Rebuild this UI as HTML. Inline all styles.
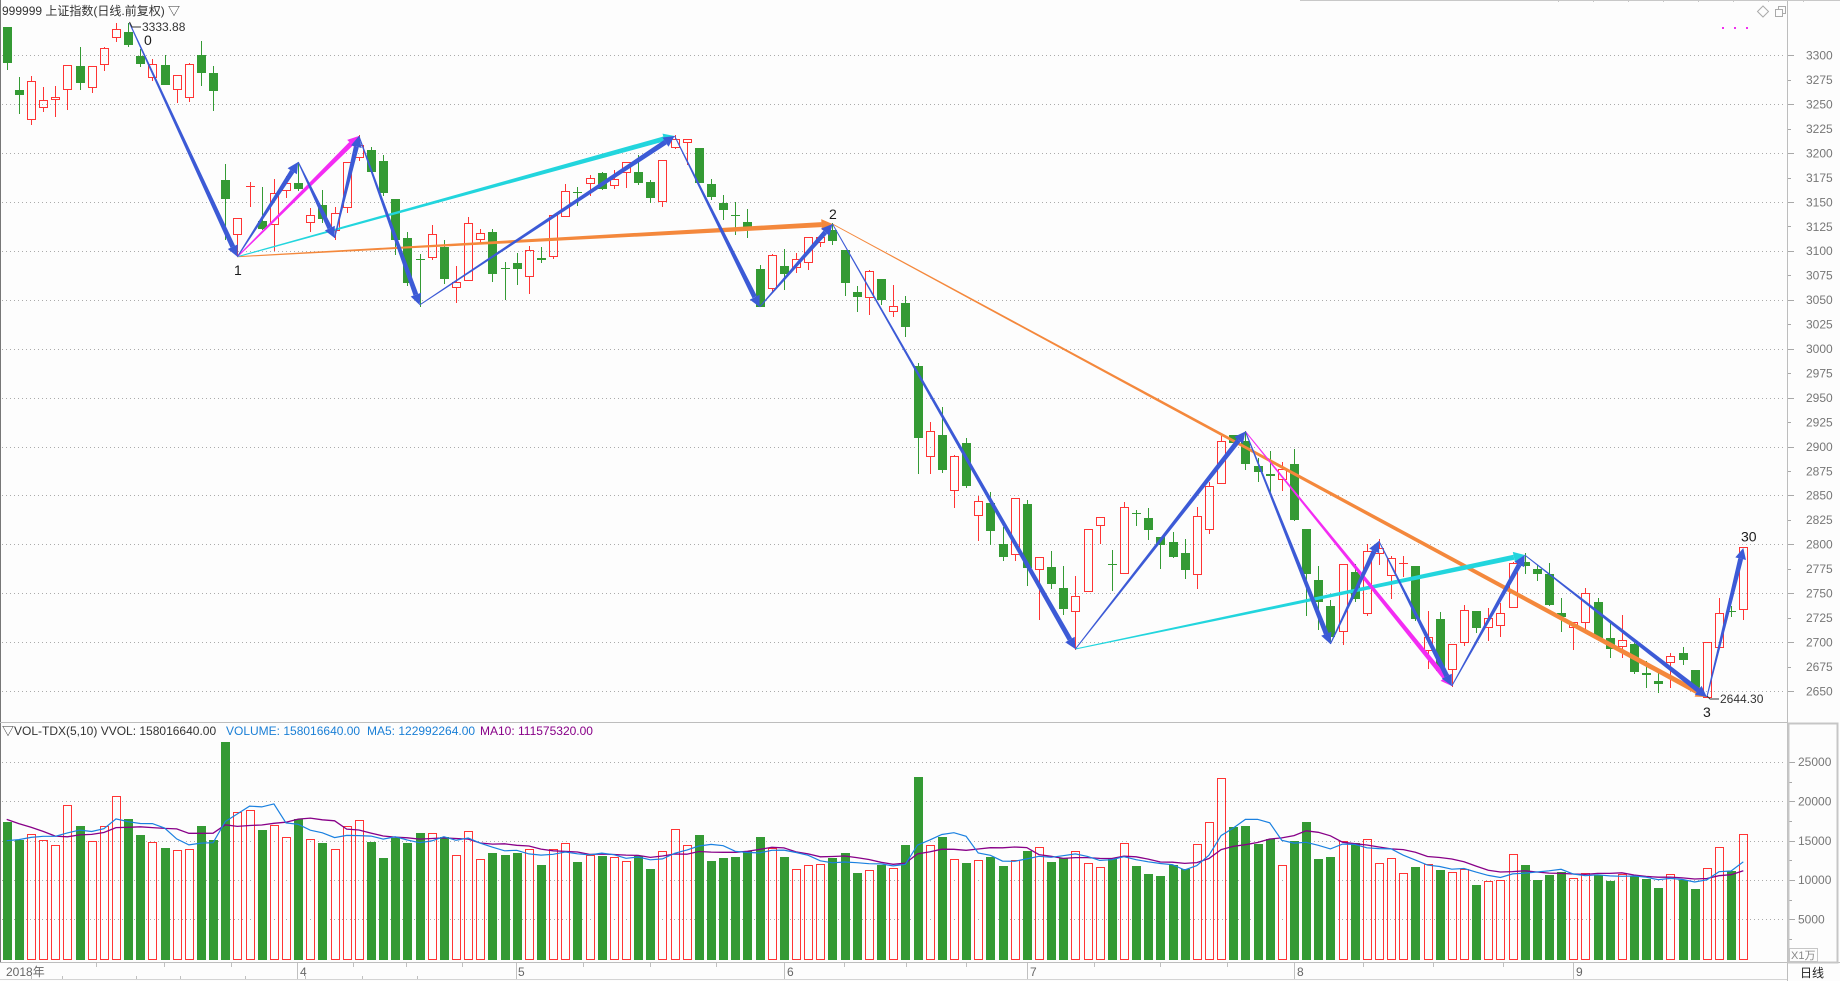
<!DOCTYPE html>
<html><head><meta charset="utf-8"><title>999999 上证指数</title>
<style>
html,body{margin:0;padding:0;background:#fdfdfd;}
body{width:1840px;height:981px;overflow:hidden;}
svg{display:block;font-family:"Liberation Sans","Noto Sans CJK SC",sans-serif;}
</style></head><body>
<svg id="s" width="1840" height="981" viewBox="0 0 1840 981" xmlns="http://www.w3.org/2000/svg">
<rect width="1840" height="981" fill="#fdfdfd"/>
<g id="grid" stroke="#ababab" stroke-width="1" stroke-dasharray="1 3"></g>
<g id="axes" stroke="#a8a8a8" stroke-width="1"></g>
<g stroke-width="1" fill="none">
<line x1="0.5" y1="0" x2="0.5" y2="963" stroke="#777"/>
<line x1="0" y1="722.5" x2="1787" y2="722.5" stroke="#bdbdbd"/>
<line x1="0" y1="962.5" x2="1840" y2="962.5" stroke="#bdbdbd"/>
<line x1="0" y1="979.5" x2="1787" y2="979.5" stroke="#d4d4d4"/>
<line x1="1787.5" y1="0" x2="1787.5" y2="981" stroke="#bdbdbd"/>
<line x1="1300" y1="0.5" x2="1840" y2="0.5" stroke="#c8c8c8"/>
<rect x="1788.5" y="723.5" width="49" height="239" stroke="#c6c6c6" stroke-width="2"/>
<rect x="1789.5" y="948.5" width="28" height="13" stroke="#c6c6c6"/>
<polygon points="1763,6 1768.5,11.5 1763,17 1757.5,11.5" stroke="#aaa"/>
<rect x="1775.5" y="9.5" width="7" height="7" stroke="#aaa"/>
<polyline points="1778.5,9.5 1778.5,6.5 1785.5,6.5 1785.5,13.5 1782.5,13.5" stroke="#aaa"/>
</g>
<g fill="#f030f0">
<rect x="1722" y="27" width="2" height="2"/><rect x="1734" y="27" width="2" height="2"/><rect x="1746" y="27" width="2" height="2"/>
</g>
<g id="cand"></g>
<g id="vol"></g>
<g id="ma" fill="none"></g>
<g id="zz"></g>
<g fill="none" stroke="#333" stroke-width="1">
<polyline points="129.5,22 132,27 141,27"/>
<polyline points="1707,696 1710,699 1719,699"/>
</g>
<g font-size="12" fill="#333">
<text x="2" y="15">999999 上证指数(日线.前复权) ▽</text>
<text x="142" y="31">3333.88</text>
<text x="1720" y="703">2644.30</text>
<text x="144" y="45" font-size="14" fill="#1a1a1a">0</text>
<text x="234" y="275" font-size="14" fill="#1a1a1a">1</text>
<text x="829" y="219" font-size="14" fill="#1a1a1a">2</text>
<text x="1703" y="717" font-size="14" fill="#1a1a1a">3</text>
<text x="1741" y="541.5" font-size="14" fill="#1a1a1a">30</text>
<text x="2" y="735">▽VOL-TDX(5,10) VVOL: 158016640.00</text>
<text x="226" y="735" fill="#1a7fd6">VOLUME: 158016640.00</text>
<text x="367" y="735" fill="#1a7fd6">MA5: 122992264.00</text>
<text x="480" y="735" fill="#880088">MA10: 111575320.00</text>
</g>
<g font-size="12" fill="#777">
<text x="1806" y="59.6">3300</text>
<text x="1806" y="84.1">3275</text>
<text x="1806" y="108.5">3250</text>
<text x="1806" y="133">3225</text>
<text x="1806" y="157.4">3200</text>
<text x="1806" y="181.9">3175</text>
<text x="1806" y="206.3">3150</text>
<text x="1806" y="230.8">3125</text>
<text x="1806" y="255.2">3100</text>
<text x="1806" y="279.7">3075</text>
<text x="1806" y="304.1">3050</text>
<text x="1806" y="328.6">3025</text>
<text x="1806" y="353">3000</text>
<text x="1806" y="377.5">2975</text>
<text x="1806" y="401.9">2950</text>
<text x="1806" y="426.4">2925</text>
<text x="1806" y="450.8">2900</text>
<text x="1806" y="475.3">2875</text>
<text x="1806" y="499.7">2850</text>
<text x="1806" y="524.2">2825</text>
<text x="1806" y="548.6">2800</text>
<text x="1806" y="573.1">2775</text>
<text x="1806" y="597.5">2750</text>
<text x="1806" y="622">2725</text>
<text x="1806" y="646.4">2700</text>
<text x="1806" y="670.9">2675</text>
<text x="1806" y="695.3">2650</text>
<text x="1798" y="766.2">25000</text>
<text x="1798" y="805.5">20000</text>
<text x="1798" y="844.9">15000</text>
<text x="1798" y="884.2">10000</text>
<text x="1798" y="923.6">5000</text>
<text x="1791" y="959" font-size="11" fill="#888">X1万</text>
</g>
<g font-size="12" fill="#666">
<text x="6" y="976">2018年</text>
<text x="300" y="976">4</text>
<text x="518" y="976">5</text>
<text x="787" y="976">6</text>
<text x="1030" y="976">7</text>
<text x="1297" y="976">8</text>
<text x="1576" y="976">9</text>
<text x="1800" y="977" fill="#222">日线</text>
</g>
</svg>
<script>
(function(){
const X0=6.7,DX=12.144;
const K=[
[0,26.7,62.7,26.7,70],[0,90,94.7,76.7,114],[1,81.3,119.3,76,125],[1,100,106.7,86.7,111.7],[1,97.3,98.7,86,116.7],
[1,65.3,88.7,65.3,110],[0,66,82.7,46.7,90],[1,66,86.7,66,92.7],[1,48.3,64.3,46.7,70.7],[1,29.3,36.7,23.3,41.7],
[0,32,44.7,22.5,47.3],[0,56,64,49.3,67.3],[1,64.3,77.3,59.3,80.7],[0,65.3,84.7,55.3,84.7],[1,75.3,89.3,75.3,102.7],
[1,64,97.3,62.7,102],[0,55.3,73.3,41.3,86],[0,72.7,90.7,66,110.7],[0,180,198.7,164,240],[1,218.3,234.3,218.3,256.7],
[1,186,187.3,181.7,207.3],[0,220.7,228.7,186.7,230],[1,192.7,224,179.3,250.7],[1,183.3,190,176,198.3],[0,183.3,188.7,161.7,190.7],
[1,215,221.7,208.3,231.7],[0,205,219.3,190,223.3],[1,213.3,230,207.3,240],[1,162.3,207.3,162.3,213.3],[1,145,156.7,135,160.7],
[0,150,171.7,147.3,173.3],[0,161,192.7,155.3,196],[0,199.3,240,199.3,255],[0,238.3,282.7,231.7,286],[0,258.7,259.3,254,306.7],
[1,234.3,256.7,225,260],[0,246.5,278.5,240,283.5],[1,282.3,287.3,266,303.3],[1,222.7,280,216.7,280],[1,233.3,239.3,229,242.7],
[0,232.3,274.3,229,281.7],[0,268,268.7,262.3,300],[0,263.3,268.7,253.3,285],[1,250.3,276.3,246,294],[0,258.3,259.7,246.7,263.3],
[1,215.3,256.3,215.3,258.7],[1,191.3,216.3,184,216.3],[0,192,193.3,187.3,206],[1,178.3,183.3,175,196],[0,173.3,188.7,171.7,190],
[1,178.7,185.3,170,188.7],[1,161.7,172,161.7,187.7],[0,172,182.7,155,185],[0,182,197.7,180,202.7],[1,160.3,201.3,160.3,206.7],
[1,139.3,147.3,135,149.3],[1,139.3,142.3,139.3,165],[0,148.3,182.7,148.3,182.7],[0,184,196.7,179,200],[0,203,209.7,195,220],
[0,215,215.7,202.3,235],[0,222,230,209,238.3],[0,269,307.3,265,307.3],[1,255,288.3,254,293.3],[0,266,274.3,249,290],
[1,259.3,267.3,253.3,272.7],[1,237.3,262.3,237.3,270],[1,236.7,242.3,235,246.7],[0,230,240.7,223.3,245],[0,250.3,282.7,250.3,296],
[0,292.3,296.7,286,312],[1,271.3,297.3,270,315],[0,279.3,300,279.3,305],[1,305.7,311.3,285,316.7],[0,303,327,296,337],
[0,366,438.3,363.3,474],[1,431.3,456.3,422.3,474],[0,435,469.7,407.3,472.7],[1,456.3,490.3,455.3,507.7],[0,443.3,485.7,437.7,487.7],
[1,501.3,515.3,495.7,540.7],[0,503,530.7,491.7,545],[0,544,556.7,526.7,560.7],[1,498.3,554.3,498.3,560.7],[0,504,567.7,500,586],
[1,557.3,569.3,557.3,620],[0,567.3,583.7,550.7,588.7],[0,588,608.7,566,615],[1,596.3,611.3,576,650],[1,529.3,591.3,529.3,591.3],
[1,517.3,525.3,517.3,544],[0,564,565.3,550,590.7],[1,507.3,573.3,502,573.3],[0,512.7,514,510,526],[0,518.3,530,508.3,540],
[0,537.3,545.3,537.3,568.7],[0,542,556.7,532,558.3],[0,553,570.3,539.3,579.3],[1,516.3,574.3,507.3,588.7],[1,486.3,529.3,481.7,534.3],
[1,441.3,483.3,436,483.3],[0,435.3,442.7,435.3,442.7],[0,441.3,463.7,431,470],[0,466,471.7,458.3,482],[0,474.3,476,450.7,493.3],
[1,469.3,479.3,462,490.7],[0,464.3,520,449.3,520.7],[0,529.3,574.3,529.3,615.7],[0,580,601.7,566,630],[0,606,637,600,644],
[1,564.3,631.3,564.3,645],[0,572,598.7,564.3,602],[1,550.7,613.3,544,615.7],[1,548.3,553.3,539.3,565],[1,558.3,575.3,556,599.3],
[1,562.7,563.7,556,576.7],[0,566,619,566,620.7],[1,637.3,650,611,668.7],[0,619,670.7,612,675],[1,644.3,668.7,644.3,687.3],
[1,609.7,642.3,605,645.7],[0,611.3,627.7,611.3,632.7],[1,618.3,627.3,608.3,640.7],[1,613.3,625.3,603.3,636.7],[1,563.3,607.3,561.7,607.3],
[0,562.3,565.7,553.3,574],[0,569.3,574,565,580.7],[0,574,605,563.3,606],[0,613,616.7,597.7,631.7],[1,622.3,626.7,622.3,650],
[1,593.3,622.3,588,630],[0,602,638.3,597.7,638.3],[0,638.3,649.3,622.7,658],[1,640.3,645.7,615,658],[0,644,671.7,642,673.7],
[0,673.3,675.3,661,687.7],[0,681.3,684.3,672.7,693.3],[1,655.7,662.3,653.3,687.7],[0,653.3,660,647.3,665.3],[0,670,688.3,670,690],
[1,642.3,696.7,642.3,697.7],[1,612.7,647.3,598.3,647.3],[0,611,612.3,606,617.3],[1,547.3,609.3,547.3,620]
];
const V=[822,840,834,840,845.3,805,826,841.3,826,796,819,835,842,848,850.3,849.3,826,840,742,812.3,
810,830,825,837.3,819.3,839.3,843,849.3,826,820.3,842,858,837.7,842.7,833,833,837.3,855.3,831.3,859.3,
853,855,853,849.3,865,849.3,843.3,862,855,856,857,861.3,855.7,869,851.3,829.3,845.3,835,861,858,
857,851.3,837,848,857,869.3,865.3,864.3,858,853,873,870,865.3,868,845,777,845.3,837,859.3,863,
860.3,857,866,860.3,851,847.3,862,858,851.3,863.3,867.3,858.7,843,866,874,876,864.7,869.3,844,822,
778,827,826,843.7,839.3,865.3,841,822,859,857,841.3,842.7,839,863,858.3,873,867,864.3,869.7,872,
869.3,885,881,880,854.3,865,879.7,875,872.3,878,873.3,875.3,880.7,874.3,876.3,879.3,887.7,874.3,880,888.7,
868.3,847,871,834];
const R='#ff3434',G='#349a34';
let c='',v='';
for(let i=0;i<K.length;i++){
 const u=K[i][0];
 const x=Math.round(X0+i*DX)+0.5;
 const col=u?R:G;
 const t=Math.round(K[i][1]),b=Math.round(K[i][2]),ht=Math.round(K[i][3]),lb=Math.round(K[i][4]);
 if(b-t<2){
  c+='<line x1="'+x+'" y1="'+ht+'" x2="'+x+'" y2="'+lb+'" stroke="'+col+'"/>';
  c+='<line x1="'+(x-4.5)+'" y1="'+(t+0.5)+'" x2="'+(x+4.5)+'" y2="'+(t+0.5)+'" stroke="'+col+'"/>';
 }else if(u){
  if(ht<t)c+='<line x1="'+x+'" y1="'+ht+'" x2="'+x+'" y2="'+t+'" stroke="'+R+'"/>';
  if(lb>b)c+='<line x1="'+x+'" y1="'+(b+1)+'" x2="'+x+'" y2="'+lb+'" stroke="'+R+'"/>';
  c+='<rect x="'+(x-4)+'" y="'+(t+0.5)+'" width="8" height="'+(b-t)+'" fill="none" stroke="'+R+'"/>';
 }else{
  c+='<line x1="'+x+'" y1="'+ht+'" x2="'+x+'" y2="'+lb+'" stroke="'+G+'"/>';
  c+='<rect x="'+(x-4.5)+'" y="'+t+'" width="9" height="'+(b-t)+'" fill="'+G+'"/>';
 }
 const vt=Math.round(V[i]);
 if(u)v+='<rect x="'+(x-4)+'" y="'+(vt+0.5)+'" width="8" height="'+(959-vt)+'" fill="none" stroke="'+R+'"/>';
 else v+='<rect x="'+(x-4.5)+'" y="'+vt+'" width="9" height="'+(960-vt)+'" fill="'+G+'"/>';
}
document.getElementById('cand').innerHTML=c;
document.getElementById('vol').innerHTML=v;
// MA
const pre=[798,798,798,798,798,845.4,845.4,845.4,845.4],A=pre.concat(V);
let m5='',m10='';
for(let i=0;i<V.length;i++){
 const x=(X0+i*DX).toFixed(1);let s5=0,s10=0;
 for(let k=0;k<5;k++)s5+=A[i+9-k];
 for(let k=0;k<10;k++)s10+=A[i+9-k];
 m5+=x+','+(s5/5).toFixed(1)+' ';m10+=x+','+(s10/10).toFixed(1)+' ';
}
document.getElementById('ma').innerHTML='<polyline points="'+m10+'" stroke="#880088" stroke-width="1.3"/><polyline points="'+m5+'" stroke="#1a80e0" stroke-width="1.2"/>';
// grid & axes
let g='',ax='';
for(let p=3300;p>=2650;p-=25){
 const yy=Math.round(55.3+(3300-p)*0.978)+0.5;
 if(p%50==0){g+='<line x1="2" y1="'+yy+'" x2="1786" y2="'+yy+'"/>';ax+='<line x1="1787" y1="'+yy+'" x2="1794" y2="'+yy+'"/>';}
 else ax+='<line x1="1787" y1="'+yy+'" x2="1791" y2="'+yy+'"/>';
}
for(let k=1;k<=10;k++){
 const yy=Math.round(958.6-k*19.675)+0.5;
 if(k%2==0){g+='<line x1="2" y1="'+yy+'" x2="1786" y2="'+yy+'"/>';ax+='<line x1="1789" y1="'+yy+'" x2="1795" y2="'+yy+'"/>';}
 else ax+='<line x1="1789" y1="'+yy+'" x2="1792" y2="'+yy+'"/>';
}
[297.5,516.5,784.5,1027.5,1294.5,1573.5].forEach(function(x){ax+='<line x1="'+x+'" y1="963" x2="'+x+'" y2="979" stroke="#c0c0c0"/>';});
[96,164,231,353,406,462,583,650,716,844,906,966,1094,1160,1227,1363,1433,1503].forEach(function(x){ax+='<line x1="'+(x+0.5)+'" y1="963" x2="'+(x+0.5)+'" y2="967" stroke="#c0c0c0"/>';});
[31,62,136,180,245,305,362,417].forEach(function(x){ax+='<line x1="'+(x+0.5)+'" y1="976" x2="'+(x+0.5)+'" y2="980" stroke="#c0c0c0"/>';});
[1558,1593,1628,1663,1698,1733,1768,1803].forEach(function(x){ax+='<line x1="'+(x+0.5)+'" y1="0" x2="'+(x+0.5)+'" y2="2" stroke="#c8c8c8"/>';});
document.getElementById('grid').innerHTML=g;
document.getElementById('axes').innerHTML=ax;
// zigzag arrows
function arrow(x1,y1,x2,y2,col,w1,w2){
 w1=w1||1;w2=w2||5;const hl=11,hw=11;
 const dx=x2-x1,dy=y2-y1,L=Math.hypot(dx,dy),ux=dx/L,uy=dy/L,nx=-uy,ny=ux;
 const bx=x2-ux*hl,by=y2-uy*hl;
 const f=function(a,b){return a.toFixed(1)+','+b.toFixed(1);};
 let s='<polygon points="'+f(x1+nx*w1/2,y1+ny*w1/2)+' '+f(bx+nx*w2/2,by+ny*w2/2)+' '+f(bx-nx*w2/2,by-ny*w2/2)+' '+f(x1-nx*w1/2,y1-ny*w1/2)+'" fill="'+col+'"/>';
 s+='<polygon points="'+f(x2,y2)+' '+f(bx+nx*hw/2,by+ny*hw/2)+' '+f(bx-nx*hw/2,by-ny*hw/2)+'" fill="'+col+'"/>';
 return s;
}
const B='#3c5ad6',O='#f4883c',C='#22d5dd',M='#f32cf3';
const P0=[129.5,23],P1=[237.4,256.7],PA=[298.2,162],PB=[358.9,136],PD=[334.6,238],PE=[419.6,305],PC=[674.6,136],PF=[759.6,307],P2=[832.5,224],
PG=[1075.4,649],PH=[1245.4,431.5],PK=[1330.4,644],PL=[1378.9,541],PJ=[1451.8,686],PI=[1524.7,555],P3=[1706.9,697],PM=[1743.3,548];
const segs=[[P1,P2,O],[P2,P3,O],[P1,PC,C],[PG,PI,C],[P1,PB,M],[PH,PJ,M],
[P0,P1,B],[P1,PA,B],[PA,PD,B],[PD,PB,B],[PB,PE,B],[PE,PC,B],[PC,PF,B],[PF,P2,B],[P2,PG,B],[PG,PH,B],[PH,PK,B],[PK,PL,B],[PL,PJ,B],[PJ,PI,B],[PI,P3,B],[P3,PM,B]];
let z='';
segs.forEach(function(s){z+=arrow(s[0][0],s[0][1],s[1][0],s[1][1],s[2]);});
document.getElementById('zz').innerHTML=z;
})();
</script>
</body></html>
